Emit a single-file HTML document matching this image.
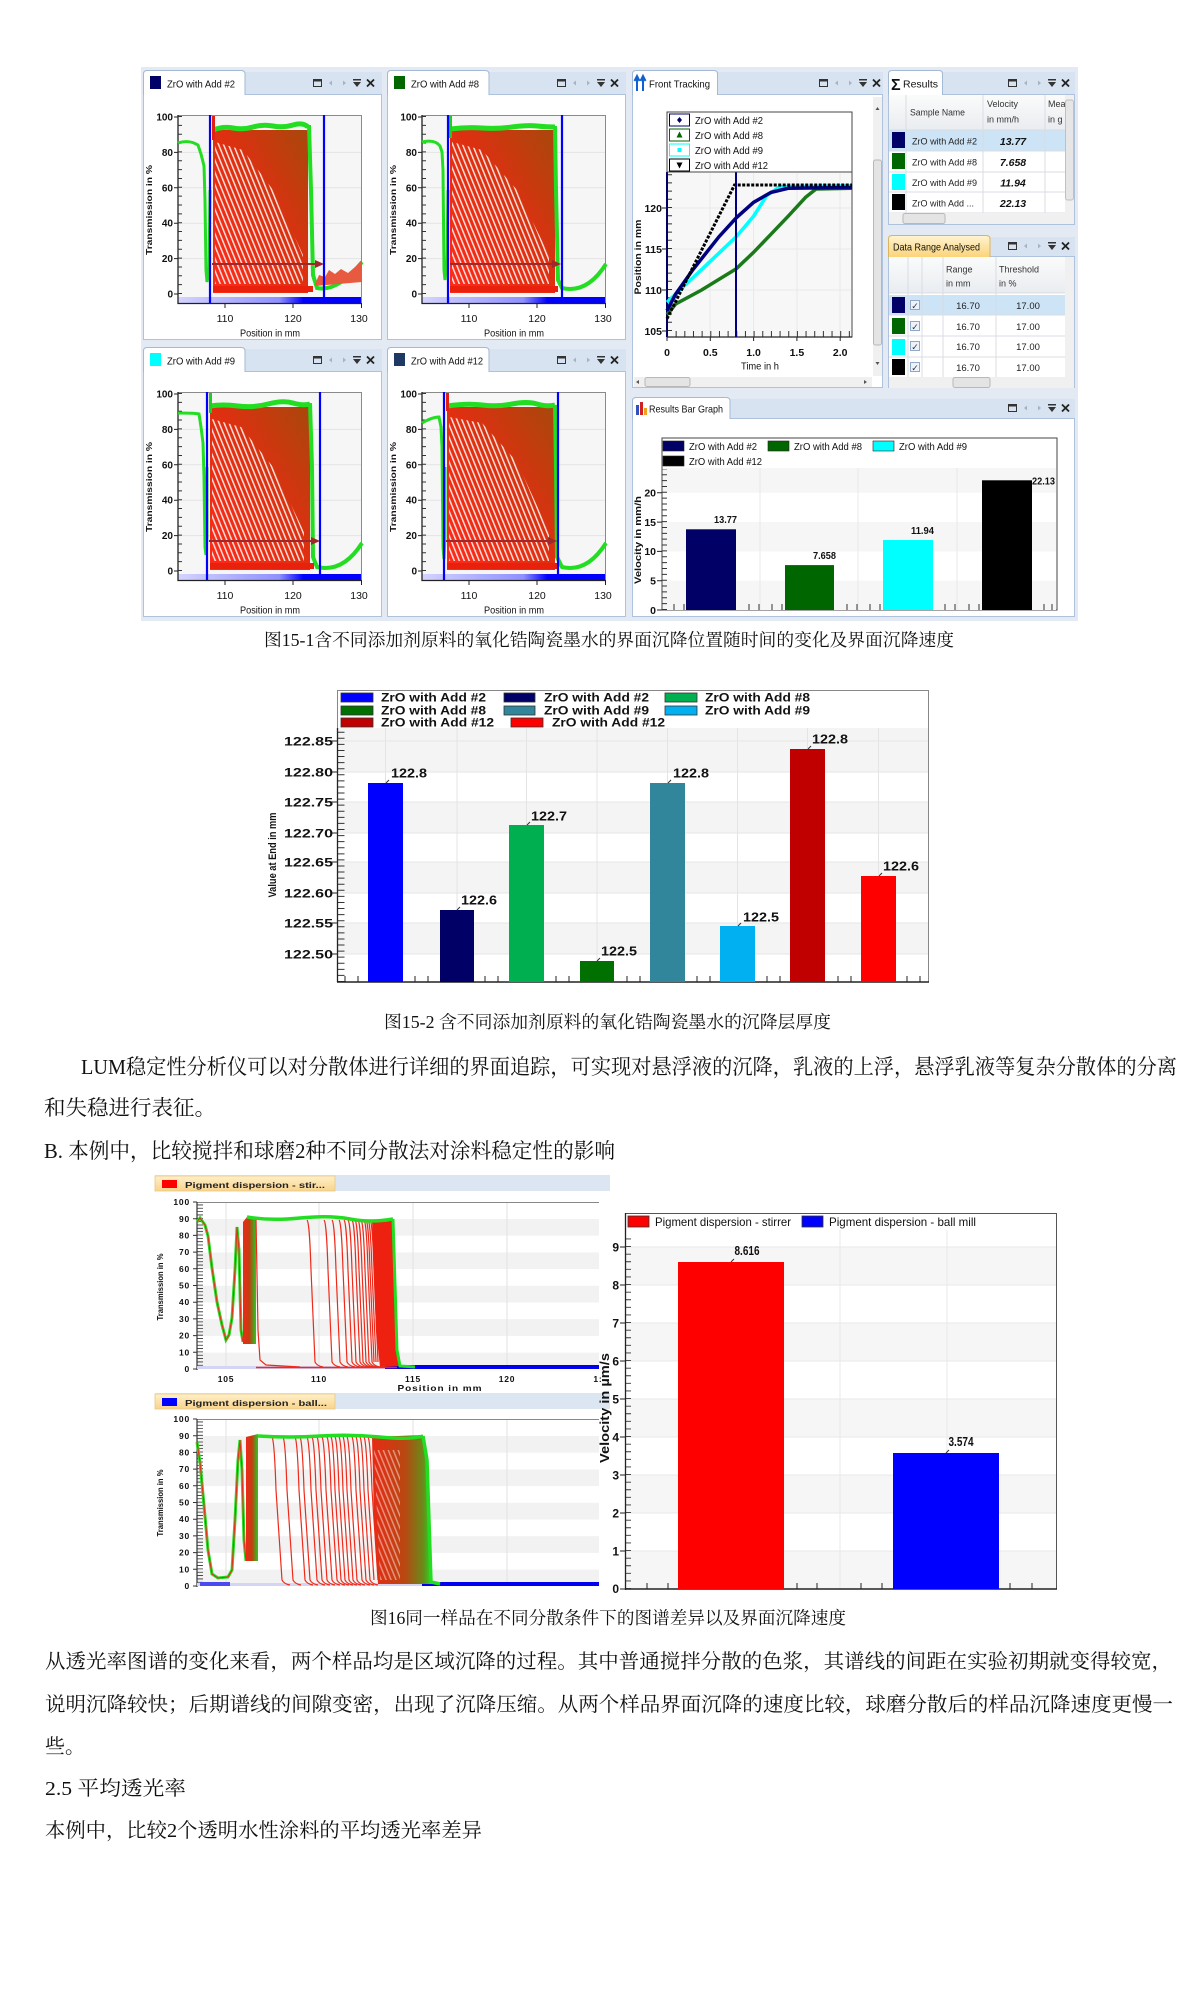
<!DOCTYPE html>
<html><head><meta charset="utf-8"><title>LUM</title>
<style>
html,body{margin:0;padding:0;background:#fff;}
svg{display:block;}
</style></head><body>
<svg width="1200" height="2011" viewBox="0 0 1200 2011" xmlns="http://www.w3.org/2000/svg" font-family="Liberation Sans, Arial, sans-serif">
<defs>
<linearGradient id="rg" x1="0" y1="1" x2="1" y2="0"><stop offset="0" stop-color="#ff2a1a"/><stop offset="0.55" stop-color="#dd3010"/><stop offset="1" stop-color="#a8480c"/></linearGradient>
<linearGradient id="bb" x1="0" x2="1"><stop offset="0" stop-color="#d4d4ff"/><stop offset="0.55" stop-color="#9090ff"/><stop offset="0.68" stop-color="#0000ff"/><stop offset="1" stop-color="#0000ff"/></linearGradient>
<linearGradient id="tabY" x1="0" y1="0" x2="0" y2="1"><stop offset="0" stop-color="#fff4d2"/><stop offset="1" stop-color="#fbd47a"/></linearGradient>
<linearGradient id="tabO" x1="0" y1="0" x2="0" y2="1"><stop offset="0" stop-color="#fff0c8"/><stop offset="1" stop-color="#f9d38c"/></linearGradient>
<linearGradient id="hdr" x1="0" y1="0" x2="0" y2="1"><stop offset="0" stop-color="#fbfbfb"/><stop offset="1" stop-color="#e9ecf0"/></linearGradient>
<linearGradient id="rgG" x1="0" x2="1"><stop offset="0" stop-color="#f02818"/><stop offset="0.5" stop-color="#c04010"/><stop offset="1" stop-color="#22cc22"/></linearGradient>
<linearGradient id="rg2" x1="0" x2="1"><stop offset="0" stop-color="#e82a14"/><stop offset="0.55" stop-color="#b84812"/><stop offset="0.85" stop-color="#6a8a18"/><stop offset="1" stop-color="#22dd22"/></linearGradient>
<pattern id="st" width="4.6" height="12" patternUnits="userSpaceOnUse" patternTransform="rotate(-22)">
<rect x="0" y="0" width="1.5" height="12" fill="#fff"/>
</pattern>
<g id="ic">
<rect x="0.5" y="-3.5" width="8" height="7" fill="none" stroke="#333" stroke-width="1"/><rect x="0.5" y="-3.5" width="8" height="2" fill="#333"/>
<path d="M19,-2.5 L16,0 L19,2.5Z" fill="#aab2c0"/>
<path d="M30,-2.5 L33,0 L30,2.5Z" fill="#aab2c0"/>
<rect x="40" y="-4" width="8" height="1.5" fill="#333"/><path d="M40,-1 H48 L44,4Z" fill="#333"/>
<path d="M54,-3.5 L61,3.5 M61,-3.5 L54,3.5" stroke="#222" stroke-width="1.8"/>
</g>
<g id="tp">
<rect x="0" y="2" width="239" height="23" fill="#d8e3f2"/>
<rect x="0.5" y="24.5" width="238" height="245" fill="#fff" stroke="#aec2dd"/>
<path d="M0.5,25 V4 Q0.5,0.5 4,0.5 H98 Q102,0.5 102,4 V25" fill="#fff" stroke="#a3b9d6"/>
<rect x="1" y="24" width="100.5" height="2" fill="#fff"/>
<use href="#ic" x="170" y="13"/>
<rect x="35" y="45" width="184" height="188" fill="#f6f6f6"/>
<path d="M35,82.4H219M35,117.8H219M35,153.2H219M35,188.6H219" stroke="#e4e4e4"/>
<rect x="35" y="227" width="184" height="6" fill="url(#bb)"/>
<path d="M35.5,45.5H218.5V233" fill="none" stroke="#8a8a8a"/>
<path d="M35,45V233.5H219" fill="none" stroke="#222" stroke-width="1.3"/>
<line x1="37" y1="224" x2="37" y2="45" stroke="#333" stroke-width="4" stroke-dasharray="1 7.85"/>
<path d="M31,47H35M31,82.4H35M31,117.8H35M31,153.2H35M31,188.6H35M31,224H35M82,233V238M150,233V238M218.5,233V238" stroke="#222"/>
<g font-size="10" font-weight="bold" fill="#111" text-anchor="end">
<text x="30" y="50.5">100</text><text x="30" y="86">80</text><text x="30" y="121.3">60</text><text x="30" y="156.7">40</text><text x="30" y="192">20</text><text x="30" y="227.5">0</text>
</g>
<g font-size="10.5" fill="#111" text-anchor="middle">
<text x="82" y="252">110</text><text x="150" y="252">120</text><text x="216" y="252">130</text>
<text x="127" y="266.5" textLength="60" lengthAdjust="spacingAndGlyphs">Position in mm</text>
</g>
<text transform="translate(9,140) rotate(-90)" font-size="8.5" font-weight="bold" fill="#111" text-anchor="middle" textLength="90" lengthAdjust="spacingAndGlyphs">Transmission in %</text>
</g>
</defs>

<!-- ===================== FIGURE 15-1 ===================== -->
<rect x="141" y="67" width="937" height="554" fill="#e3eaf4"/>

<!-- Panel 1 -->
<g transform="translate(143,70)">
<use href="#tp"/>
<rect x="7" y="6" width="11" height="13" fill="#000066"/>
<text x="24" y="17.5" font-size="10.5" fill="#111" textLength="68" lengthAdjust="spacingAndGlyphs">ZrO with Add #2</text>
<path d="M35,73 C44,70 50,72 55,75 L58,84 L61,96 L62,130 L63,200 L64,212 L66,200 L67,120" fill="none" stroke="#22dd22" stroke-width="3"/>
<rect x="70" y="60" width="95" height="163" fill="url(#rg)"/>
<polygon points="72,72 100,80 130,120 160,185 160,214 72,214" fill="url(#st)" opacity="0.85"/>
<path d="M70,60 Q80,56 90,58 T110,57 T130,56 T150,55 T165,57" fill="none" stroke="#22dd22" stroke-width="5"/>
<path d="M166,55 L168,120 L170,205 L174,218 Q195,222 219,192" fill="none" stroke="#22dd22" stroke-width="4"/>
<path d="M172,214 L176,205 L182,207 L186,200 L192,204 L198,199 L205,203 L212,197 L219,190 L219,212 L172,216Z" fill="#e85a40"/>
<rect x="70" y="216" width="100" height="6" fill="#e8200c"/>
<rect x="69" y="46" width="3" height="24" fill="#e02010"/>
<line x1="69" y1="194" x2="175" y2="194" stroke="#a02828" stroke-width="2"/>
<path d="M181,194 L172,190 L172,198Z" fill="#a02828"/>
<line x1="67" y1="45" x2="67" y2="233" stroke="#0000ff" stroke-width="2.2"/>
<line x1="181" y1="45" x2="181" y2="233" stroke="#0000ff" stroke-width="2.2"/>
</g>

<!-- Panel 2 -->
<g transform="translate(387,70)">
<use href="#tp"/>
<rect x="7" y="6" width="11" height="13" fill="#006600"/>
<text x="24" y="17.5" font-size="10.5" fill="#111" textLength="68" lengthAdjust="spacingAndGlyphs">ZrO with Add #8</text>
<path d="M35,72 C44,70 50,72 53,76 L55,82 L56,100 L57,200 L58,210 L60,190 L61,120" fill="none" stroke="#22dd22" stroke-width="3"/>
<rect x="63" y="60" width="105" height="163" fill="url(#rg)"/>
<polygon points="65,72 95,80 130,120 162,185 162,214 65,214" fill="url(#st)" opacity="0.85"/>
<path d="M63,59 Q80,57 95,58 T125,57 T150,56 T168,57" fill="none" stroke="#22dd22" stroke-width="5"/>
<path d="M168,56 L169,120 L171,210 L175,218 Q200,224 219,194" fill="none" stroke="#22dd22" stroke-width="4"/>
<rect x="63" y="216" width="108" height="6" fill="#e8200c"/>
<rect x="62" y="46" width="3" height="22" fill="#22cc22"/>
<line x1="63" y1="194" x2="168" y2="194" stroke="#a02828" stroke-width="2"/>
<path d="M174,194 L165,190 L165,198Z" fill="#a02828"/>
<line x1="61" y1="45" x2="61" y2="233" stroke="#0000ff" stroke-width="2.2"/>
<line x1="175" y1="45" x2="175" y2="233" stroke="#0000ff" stroke-width="2.2"/>
</g>

<!-- Panel 3 -->
<g transform="translate(143,347)">
<use href="#tp"/>
<rect x="7" y="6" width="11" height="13" fill="#00ffff"/>
<text x="24" y="17.5" font-size="10.5" fill="#111" textLength="68" lengthAdjust="spacingAndGlyphs">ZrO with Add #9</text>
<path d="M35,66 C44,66 52,66 56,67 L58,80 L60,96 L61,130 L62,200 L63,208 L64,190 L64,120" fill="none" stroke="#22dd22" stroke-width="3"/>
<rect x="67" y="60" width="100" height="163" fill="url(#rg)"/>
<polygon points="69,72 98,80 130,120 161,185 161,214 69,214" fill="url(#st)" opacity="0.85"/>
<path d="M67,59 Q80,57 95,59 T125,57 T150,56 T167,57" fill="none" stroke="#22dd22" stroke-width="5"/>
<path d="M167,56 L169,120 L170,210 L174,220 Q200,226 219,196" fill="none" stroke="#22dd22" stroke-width="4"/>
<rect x="67" y="216" width="104" height="6" fill="#e8200c"/>
<rect x="66" y="46" width="3" height="20" fill="#22cc22"/>
<line x1="66" y1="194" x2="171" y2="194" stroke="#a02828" stroke-width="2"/>
<path d="M177,194 L168,190 L168,198Z" fill="#a02828"/>
<line x1="64" y1="45" x2="64" y2="233" stroke="#0000ff" stroke-width="2.2"/>
<line x1="177" y1="45" x2="177" y2="233" stroke="#0000ff" stroke-width="2.2"/>
</g>

<!-- Panel 4 -->
<g transform="translate(387,347)">
<use href="#tp"/>
<rect x="7" y="6" width="11" height="13" fill="#1f3864"/>
<text x="24" y="17.5" font-size="10.5" fill="#111" textLength="72" lengthAdjust="spacingAndGlyphs">ZrO with Add #12</text>
<path d="M35,76 C42,72 48,70 52,70 L54,80 L55,100 L56,200 L57,212 L58,190 L58,120" fill="none" stroke="#22dd22" stroke-width="3"/>
<rect x="60" y="60" width="108" height="163" fill="url(#rg)"/>
<polygon points="62,70 95,76 130,115 162,185 162,214 62,214" fill="url(#st)" opacity="0.85"/>
<path d="M60,59 Q80,56 95,58 T125,57 T150,57 T168,58" fill="none" stroke="#22dd22" stroke-width="5"/>
<path d="M168,58 L169,120 L170,210 L175,220 Q200,226 219,196" fill="none" stroke="#22dd22" stroke-width="4"/>
<rect x="60" y="216" width="110" height="6" fill="#e8200c"/>
<rect x="59" y="46" width="3" height="18" fill="#e02010"/>
<line x1="59" y1="194" x2="165" y2="194" stroke="#a02828" stroke-width="2"/>
<path d="M170,194 L161,190 L161,198Z" fill="#a02828"/>
<line x1="57" y1="45" x2="57" y2="233" stroke="#0000ff" stroke-width="2.2"/>
<line x1="171" y1="45" x2="171" y2="233" stroke="#0000ff" stroke-width="2.2"/>
</g>

<!-- Front tracking -->
<g transform="translate(632,70)">
<rect x="0" y="2" width="251" height="23" fill="#d8e3f2"/>
<rect x="0.5" y="24.5" width="250" height="293" fill="#fff" stroke="#aec2dd"/>
<path d="M0.5,25 V4 Q0.5,0.5 4,0.5 H82 Q85.5,0.5 85.5,4 V25" fill="#fff" stroke="#a3b9d6"/>
<rect x="1" y="24" width="84" height="2" fill="#fff"/>
<use href="#ic" x="187" y="13"/>
<path d="M5,21 V8 M2.5,11 L5,6 L7.5,11 M11,21 V8 M8.5,11 L11,6 L13.5,11" stroke="#1060d0" stroke-width="2" fill="none"/>
<text x="17" y="17.5" font-size="10.5" fill="#111" textLength="61" lengthAdjust="spacingAndGlyphs">Front Tracking</text>
<rect x="35" y="42" width="185" height="225" fill="#fff" stroke="#444"/>
<rect x="36" y="103" width="183" height="163" fill="#f7f7f7"/>
<path d="M36,138H219M36,179H219M36,220H219M78,103V266M121.6,103V266M165,103V266M208,103V266" stroke="#e8e8e8"/>
<line x1="37.5" y1="261" x2="37.5" y2="103" stroke="#333" stroke-width="5" stroke-dasharray="1 7.2"/>
<line x1="35" y1="264" x2="220" y2="264" stroke="#333" stroke-width="6" stroke-dasharray="1 7.66"/>
<line x1="35" y1="102" x2="35" y2="267" stroke="#000066" stroke-width="2"/>
<line x1="35" y1="267" x2="220" y2="267" stroke="#222" stroke-width="1.2"/>
<path d="M30,261H35M30,220H35M30,179H35M30,138H35M35,267V271M78.3,267V271M121.6,267V271M164.9,267V271M208.2,267V271" stroke="#222"/>
<g font-size="10.5" font-weight="bold" fill="#111" text-anchor="end">
<text x="30" y="265">105</text><text x="30" y="224">110</text><text x="30" y="183">115</text><text x="30" y="142">120</text>
</g>
<g font-size="10.5" font-weight="bold" fill="#111" text-anchor="middle">
<text x="35" y="286">0</text><text x="78.3" y="286">0.5</text><text x="121.6" y="286">1.0</text><text x="164.9" y="286">1.5</text><text x="208.2" y="286">2.0</text>
</g>
<text x="128" y="299.5" font-size="10.5" fill="#111" text-anchor="middle" textLength="38" lengthAdjust="spacingAndGlyphs">Time in h</text>
<text transform="translate(9,187) rotate(-90)" font-size="9" font-weight="bold" fill="#111" text-anchor="middle" textLength="75" lengthAdjust="spacingAndGlyphs">Position in mm</text>
<polyline points="35,244.6 43.7,234 69.6,220 104.3,198.7 121.6,182.3 139,164.2 156.2,146.2 173.6,127.3 184,119 220,118.3" fill="none" stroke="#1a7a1a" stroke-width="3.5"/>
<polyline points="35,232.3 52.3,215.9 78.3,191.3 104.3,166.7 121.6,146.2 134.6,125.7 147.6,116.7 220,115.9" fill="none" stroke="#00ffff" stroke-width="3.5"/>
<polyline points="35,240.5 43.7,224 61,199.5 87,166.7 104.3,147.8 121.6,132.3 139,122.4 156.2,118.3 220,117.5" fill="none" stroke="#000080" stroke-width="3.5"/>
<polyline points="35,248.7 102.5,115 220,115" fill="none" stroke="#000" stroke-width="3" stroke-dasharray="3 1.5"/>
<line x1="104" y1="102" x2="104" y2="267" stroke="#000080" stroke-width="2"/>
<rect x="35" y="42" width="185" height="60" fill="#fff" stroke="#444"/>
<rect x="37.5" y="44" width="20" height="12" fill="#fff" stroke="#000066"/><path d="M47.5,47 L50,50 L47.5,53 L45,50Z" fill="#000066"/>
<rect x="37.5" y="59" width="20" height="12" fill="#fff" stroke="#006600"/><path d="M47.5,61.5 L50.5,67.5 H44.5Z" fill="#006600"/>
<rect x="37.5" y="74" width="20" height="12" fill="#fff" stroke="#00ffff"/><rect x="45.5" y="78" width="4" height="4" fill="#00ffff"/>
<rect x="37.5" y="89" width="20" height="12" fill="#fff" stroke="#000"/><path d="M44.5,92.5 H50.5 L47.5,98.5Z" fill="#000"/>
<g font-size="10.5" fill="#111">
<text x="63" y="54" textLength="68" lengthAdjust="spacingAndGlyphs">ZrO with Add #2</text>
<text x="63" y="69" textLength="68" lengthAdjust="spacingAndGlyphs">ZrO with Add #8</text>
<text x="63" y="84" textLength="68" lengthAdjust="spacingAndGlyphs">ZrO with Add #9</text>
<text x="63" y="99" textLength="73" lengthAdjust="spacingAndGlyphs">ZrO with Add #12</text>
</g>
<rect x="241" y="27" width="9" height="279" fill="#f0f0f0"/>
<rect x="241.5" y="90" width="8" height="185" rx="2" fill="#e4e4e4" stroke="#b8b8b8"/>
<path d="M243.5,40 L245.5,37 L247.5,40Z M243.5,292 L245.5,295 L247.5,292Z" fill="#555"/>
<rect x="2" y="307" width="238" height="10" fill="#f0f0f0"/>
<rect x="13" y="307.5" width="45" height="9" rx="2" fill="#e4e4e4" stroke="#b8b8b8"/>
<path d="M7,310 L4,312 L7,314Z M232,310 L235,312 L232,314Z" fill="#555"/>
</g>

<!-- Results -->
<g transform="translate(888,70)">
<rect x="0" y="2" width="187" height="23" fill="#d8e3f2"/>
<rect x="0.5" y="24.5" width="186" height="130" fill="#fff" stroke="#aec2dd"/>
<path d="M0.5,25 V4 Q0.5,0.5 4,0.5 H51 Q54.5,0.5 54.5,4 V25" fill="#fff" stroke="#a3b9d6"/>
<rect x="1" y="24" width="53" height="2" fill="#fff"/>
<use href="#ic" x="120" y="13"/>
<text x="3" y="20" font-size="16" font-weight="bold" fill="#111">Σ</text>
<text x="15" y="17.5" font-size="10.5" fill="#111" textLength="35" lengthAdjust="spacingAndGlyphs">Results</text>
<rect x="1" y="25" width="176" height="35" fill="url(#hdr)"/>
<rect x="1" y="60" width="176" height="21" fill="#cde4f6"/>
<path d="M1,81H177M1,102H177M1,122H177M1,143H177M18,25V143M95,25V143M157,25V143M1,60H177" stroke="#d8dde4"/>
<g font-size="9" fill="#333">
<text x="22" y="45.5" textLength="55" lengthAdjust="spacingAndGlyphs">Sample Name</text>
<text x="99" y="37">Velocity</text><text x="99" y="52.5">in mm/h</text>
<text x="160" y="37">Mea</text><text x="160" y="52.5">in g</text>
</g>
<rect x="4" y="62" width="13" height="16" fill="#000066"/>
<rect x="4" y="83" width="13" height="16" fill="#006600"/>
<rect x="4" y="104" width="13" height="16" fill="#00ffff"/>
<rect x="4" y="124" width="13" height="16" fill="#000"/>
<g font-size="9.5" fill="#222">
<text x="24" y="74.5" textLength="65" lengthAdjust="spacingAndGlyphs">ZrO with Add #2</text>
<text x="24" y="95.5" textLength="65" lengthAdjust="spacingAndGlyphs">ZrO with Add #8</text>
<text x="24" y="116" textLength="65" lengthAdjust="spacingAndGlyphs">ZrO with Add #9</text>
<text x="24" y="136.5" textLength="62" lengthAdjust="spacingAndGlyphs">ZrO with Add ...</text>
</g>
<g font-size="10.5" font-weight="bold" font-style="italic" fill="#111" text-anchor="middle">
<text x="125" y="75">13.77</text><text x="125" y="96">7.658</text><text x="125" y="116.5">11.94</text><text x="125" y="137">22.13</text>
</g>
<rect x="177" y="25" width="9" height="118" fill="#f0f0f0"/>
<rect x="177.5" y="30" width="8" height="100" rx="2" fill="#e6e6e6" stroke="#c0c0c0"/>
<rect x="1" y="143" width="185" height="11" fill="#f0f0f0"/>
<rect x="15" y="143.5" width="42" height="10" rx="2" fill="#e4e4e4" stroke="#b8b8b8"/>
</g>

<!-- Data Range -->
<g transform="translate(888,235)">
<rect x="0" y="2" width="187" height="20" fill="#d8e3f2"/>
<rect x="0.5" y="21.5" width="186" height="131" fill="#fff" stroke="#aec2dd"/>
<path d="M0.5,22 V4 Q0.5,0.5 4,0.5 H98 Q102,0.5 102,4 V22" fill="url(#tabY)" stroke="#dcb45a"/>
<use href="#ic" x="120" y="11"/>
<text x="5" y="15.5" font-size="10.5" fill="#111" textLength="87" lengthAdjust="spacingAndGlyphs">Data Range Analysed</text>
<rect x="1" y="22" width="176" height="36" fill="url(#hdr)"/>
<rect x="1" y="60" width="176" height="20" fill="#cde4f6"/>
<path d="M1,58H177M1,80H177M1,101H177M1,122H177M20,22V142M34,22V142M55,22V142M108,22V142" stroke="#d8dde4"/>
<g font-size="9" fill="#333">
<text x="58" y="37.5">Range</text><text x="58" y="51.5">in mm</text>
<text x="111" y="37.5">Threshold</text><text x="111" y="51.5">in %</text>
</g>
<rect x="4" y="62" width="13" height="16" fill="#000066"/>
<rect x="4" y="83" width="13" height="16" fill="#006600"/>
<rect x="4" y="104" width="13" height="16" fill="#00ffff"/>
<rect x="4" y="124" width="13" height="16" fill="#000"/>
<g fill="#eef3fb" stroke="#8fa8c8">
<rect x="22.5" y="65.5" width="9" height="9"/><rect x="22.5" y="86.5" width="9" height="9"/><rect x="22.5" y="106.5" width="9" height="9"/><rect x="22.5" y="127.5" width="9" height="9"/>
</g>
<g font-size="9" fill="#334" text-anchor="middle">
<text x="27" y="74">✓</text><text x="27" y="95">✓</text><text x="27" y="115">✓</text><text x="27" y="136">✓</text>
</g>
<g font-size="9.5" fill="#222" text-anchor="middle">
<text x="80" y="74">16.70</text><text x="140" y="74">17.00</text>
<text x="80" y="95">16.70</text><text x="140" y="95">17.00</text>
<text x="80" y="115">16.70</text><text x="140" y="115">17.00</text>
<text x="80" y="136">16.70</text><text x="140" y="136">17.00</text>
</g>
<rect x="177" y="22" width="9" height="120" fill="#f0f0f0"/>
<rect x="1" y="142" width="185" height="11" fill="#f0f0f0"/>
<rect x="65" y="142.5" width="37" height="10" rx="2" fill="#e4e4e4" stroke="#b8b8b8"/>
</g>

<!-- Results bar graph -->
<g transform="translate(632,397)">
<rect x="0" y="2" width="443" height="20" fill="#d8e3f2"/>
<rect x="0.5" y="21.5" width="442" height="198" fill="#fff" stroke="#aec2dd"/>
<path d="M0.5,22 V4 Q0.5,0.5 4,0.5 H94 Q98,0.5 98,4 V22" fill="#fff" stroke="#a3b9d6"/>
<rect x="1" y="21" width="96.5" height="2" fill="#fff"/>
<use href="#ic" x="376" y="11"/>
<rect x="4" y="8" width="3" height="10" fill="#3050c0"/><rect x="8" y="5" width="3" height="13" fill="#d02020"/><rect x="12" y="11" width="3" height="7" fill="#f0a020"/>
<text x="17" y="15.5" font-size="10.5" fill="#111" textLength="74" lengthAdjust="spacingAndGlyphs">Results Bar Graph</text>
<rect x="30" y="41" width="395" height="172" fill="#fff" stroke="#444"/>
<rect x="31" y="71" width="393" height="24.8" fill="#f6f6f6"/>
<rect x="31" y="125.1" width="393" height="29.3" fill="#f6f6f6"/>
<rect x="31" y="183.7" width="393" height="29.3" fill="#f6f6f6"/>
<path d="M128,71V213M226,71V213M325,71V213" stroke="#e8e8e8"/>
<line x1="32.5" y1="213" x2="32.5" y2="72" stroke="#333" stroke-width="5" stroke-dasharray="1 4.86"/>
<path d="M25,95.8H30M25,125.1H30M25,154.4H30M25,183.7H30M25,213H30" stroke="#222"/>
<path d="M42,213V207M52,213V207M117,213V207M127,213V207M140,213V207M150,213V207M215,213V207M225,213V207M238,213V207M248,213V207M313,213V207M323,213V207M337,213V207M347,213V207M412,213V207M420,213V207" stroke="#333"/>
<g font-size="10.5" font-weight="bold" fill="#111" text-anchor="end">
<text x="24" y="99.5">20</text><text x="24" y="129">15</text><text x="24" y="158">10</text><text x="24" y="187.5">5</text><text x="24" y="217">0</text>
</g>
<text transform="translate(9,143) rotate(-90)" font-size="9" font-weight="bold" fill="#111" text-anchor="middle" textLength="88" lengthAdjust="spacingAndGlyphs">Velocity in mm/h</text>
<rect x="54" y="132.3" width="50" height="80.7" fill="#000066"/>
<rect x="153" y="168.1" width="49" height="44.9" fill="#006600"/>
<rect x="251" y="143" width="50" height="70" fill="#00ffff"/>
<rect x="350" y="83.3" width="50" height="129.7" fill="#000"/>
<g font-size="10.5" font-weight="bold" fill="#111">
<text x="82" y="126" textLength="23" lengthAdjust="spacingAndGlyphs">13.77</text>
<text x="181" y="162" textLength="23" lengthAdjust="spacingAndGlyphs">7.658</text>
<text x="279" y="137" textLength="23" lengthAdjust="spacingAndGlyphs">11.94</text>
<text x="400" y="87.5" textLength="23" lengthAdjust="spacingAndGlyphs">22.13</text>
</g>
<rect x="31" y="44" width="21" height="10" fill="#000066" stroke="#222" stroke-width="0.6"/>
<rect x="136" y="44" width="21" height="10" fill="#006600" stroke="#222" stroke-width="0.6"/>
<rect x="241" y="44" width="21" height="10" fill="#00ffff" stroke="#222" stroke-width="0.6"/>
<rect x="31" y="59" width="21" height="10" fill="#000" stroke="#222" stroke-width="0.6"/>
<g font-size="10.5" fill="#111">
<text x="57" y="53" textLength="68" lengthAdjust="spacingAndGlyphs">ZrO with Add #2</text>
<text x="162" y="53" textLength="68" lengthAdjust="spacingAndGlyphs">ZrO with Add #8</text>
<text x="267" y="53" textLength="68" lengthAdjust="spacingAndGlyphs">ZrO with Add #9</text>
<text x="57" y="68" textLength="73" lengthAdjust="spacingAndGlyphs">ZrO with Add #12</text>
</g>
</g>

<!-- ===================== FIGURE 15-2 ===================== -->
<rect x="337.5" y="690.5" width="591" height="291.5" fill="#fff" stroke="#888"/>
<rect x="338" y="728" width="590" height="44" fill="#f4f4f4"/>
<rect x="338" y="802" width="590" height="31" fill="#f4f4f4"/>
<rect x="338" y="862" width="590" height="31" fill="#f4f4f4"/>
<rect x="338" y="923" width="590" height="31" fill="#f4f4f4"/>
<path d="M338,741H928M338,772H928M338,802H928M338,833H928M338,862H928M338,893H928M338,923H928M338,954H928" stroke="#e6e6e6"/>
<path d="M385.5,728V982M457,728V982M526.5,728V982M597,728V982M667.5,728V982M737.5,728V982M807.5,728V982M878.5,728V982" stroke="#e4e4e4"/>
<line x1="341" y1="982" x2="341" y2="728" stroke="#333" stroke-width="7" stroke-dasharray="1 5.08"/>
<path d="M331,741H337M331,772H337M331,802H337M331,833H337M331,862H337M331,893H337M331,923H337M331,954H337" stroke="#222"/>
<line x1="337.5" y1="728" x2="337.5" y2="982" stroke="#222" stroke-width="1.3"/>
<line x1="337" y1="982" x2="929" y2="982" stroke="#222" stroke-width="1.5"/>
<path d="M345,982V976M358,982V976M415,982V976M428,982V976M485,982V976M498,982V976M556,982V976M569,982V976M627,982V976M640,982V976M697,982V976M710,982V976M767,982V976M780,982V976M838,982V976M851,982V976M907,982V976M920,982V976" stroke="#222"/>
<g font-size="12" font-weight="bold" fill="#111" text-anchor="end">
<text x="333" y="745.5" textLength="49" lengthAdjust="spacingAndGlyphs">122.85</text>
<text x="333" y="776.5" textLength="49" lengthAdjust="spacingAndGlyphs">122.80</text>
<text x="333" y="806.5" textLength="49" lengthAdjust="spacingAndGlyphs">122.75</text>
<text x="333" y="837.5" textLength="49" lengthAdjust="spacingAndGlyphs">122.70</text>
<text x="333" y="866.5" textLength="49" lengthAdjust="spacingAndGlyphs">122.65</text>
<text x="333" y="897.5" textLength="49" lengthAdjust="spacingAndGlyphs">122.60</text>
<text x="333" y="927.5" textLength="49" lengthAdjust="spacingAndGlyphs">122.55</text>
<text x="333" y="958.5" textLength="49" lengthAdjust="spacingAndGlyphs">122.50</text>
</g>
<text transform="translate(276,855) rotate(-90)" font-size="11" font-weight="bold" fill="#111" text-anchor="middle" textLength="85" lengthAdjust="spacingAndGlyphs">Value at End in mm</text>
<rect x="368" y="783" width="35" height="199" fill="#0000ff"/>
<rect x="440" y="910" width="34" height="72" fill="#000066"/>
<rect x="509" y="825" width="35" height="157" fill="#00b050"/>
<rect x="580" y="961" width="34" height="21" fill="#007000"/>
<rect x="650" y="783" width="35" height="199" fill="#31869b"/>
<rect x="720" y="926" width="35" height="56" fill="#00b0f0"/>
<rect x="790" y="749" width="35" height="233" fill="#c00000"/>
<rect x="861" y="876" width="35" height="106" fill="#ff0000"/>
<g font-size="12.5" font-weight="bold" fill="#111">
<text x="391" y="777.5" textLength="36" lengthAdjust="spacingAndGlyphs">122.8</text>
<text x="461" y="904.5" textLength="36" lengthAdjust="spacingAndGlyphs">122.6</text>
<text x="531" y="820.5" textLength="36" lengthAdjust="spacingAndGlyphs">122.7</text>
<text x="601" y="955.5" textLength="36" lengthAdjust="spacingAndGlyphs">122.5</text>
<text x="673" y="777.5" textLength="36" lengthAdjust="spacingAndGlyphs">122.8</text>
<text x="743" y="921.5" textLength="36" lengthAdjust="spacingAndGlyphs">122.5</text>
<text x="812" y="743.5" textLength="36" lengthAdjust="spacingAndGlyphs">122.8</text>
<text x="883" y="870.5" textLength="36" lengthAdjust="spacingAndGlyphs">122.6</text>
</g>
<path d="M386,783 l3,-3 M457,910 l3,-3 M527,825 l3,-3 M597,961 l3,-3 M668,783 l3,-3 M738,926 l3,-3 M808,749 l3,-3 M879,876 l3,-3" stroke="#333"/>
<g stroke="#333" stroke-width="0.8">
<rect x="341" y="693" width="32" height="9" fill="#0000ff"/>
<rect x="504" y="693" width="31" height="9" fill="#000066"/>
<rect x="665" y="693" width="32" height="9" fill="#00b050"/>
<rect x="341" y="706" width="32" height="9" fill="#007000"/>
<rect x="504" y="706" width="31" height="9" fill="#31869b"/>
<rect x="665" y="706" width="32" height="9" fill="#00b0f0"/>
<rect x="341" y="718" width="32" height="9" fill="#c00000"/>
<rect x="511" y="718" width="32" height="9" fill="#ff0000"/>
</g>
<g font-size="11.5" font-weight="bold" fill="#111">
<text x="381" y="701.5" textLength="105" lengthAdjust="spacingAndGlyphs">ZrO with Add #2</text>
<text x="544" y="701.5" textLength="105" lengthAdjust="spacingAndGlyphs">ZrO with Add #2</text>
<text x="705" y="701.5" textLength="105" lengthAdjust="spacingAndGlyphs">ZrO with Add #8</text>
<text x="381" y="714.5" textLength="105" lengthAdjust="spacingAndGlyphs">ZrO with Add #8</text>
<text x="544" y="714.5" textLength="105" lengthAdjust="spacingAndGlyphs">ZrO with Add #9</text>
<text x="705" y="714.5" textLength="105" lengthAdjust="spacingAndGlyphs">ZrO with Add #9</text>
<text x="381" y="726.5" textLength="113" lengthAdjust="spacingAndGlyphs">ZrO with Add #12</text>
<text x="552" y="726.5" textLength="113" lengthAdjust="spacingAndGlyphs">ZrO with Add #12</text>
</g>

<!-- ===================== FIGURE 16 LEFT ===================== -->
<rect x="155" y="1175" width="455" height="16" fill="#dce6f2"/>
<rect x="155" y="1176" width="180" height="15" fill="url(#tabO)" stroke="#e6c88a" stroke-width="0.8"/>
<rect x="162" y="1180" width="15" height="8" fill="#ff0000"/>
<text x="185" y="1188" font-size="8" font-weight="bold" fill="#222" textLength="140" lengthAdjust="spacingAndGlyphs">Pigment dispersion - stir...</text>
<rect x="197" y="1202" width="402" height="167" fill="#fff"/>
<rect x="197" y="1219" width="402" height="16.7" fill="#f2f2f2"/>
<rect x="197" y="1252.4" width="402" height="16.7" fill="#f2f2f2"/>
<rect x="197" y="1285.8" width="402" height="16.7" fill="#f2f2f2"/>
<rect x="197" y="1319.2" width="402" height="16.7" fill="#f2f2f2"/>
<rect x="197" y="1352.6" width="402" height="16.4" fill="#f2f2f2"/>
<path d="M226,1202V1369M319,1202V1369M413,1202V1369M507,1202V1369" stroke="#e2e2e2"/>
<line x1="197" y1="1202.5" x2="599" y2="1202.5" stroke="#888"/>
<line x1="200" y1="1369" x2="200" y2="1202" stroke="#333" stroke-width="6" stroke-dasharray="0.8 2.54"/>
<line x1="197" y1="1202" x2="197" y2="1370" stroke="#333" stroke-width="1.2"/>
<rect x="197" y="1366" width="188" height="3" fill="#d4d4f4"/>
<rect x="385" y="1365" width="214" height="4" fill="#0000ee"/>
<path d="M197,1222 L200,1218 L205,1225 L208,1236 L212,1268 L217,1302 L222,1325 L226,1340 L229,1335 L232,1318 L235,1270 L237,1227 L239,1250 L241,1330 L243,1342" fill="none" stroke="#22dd22" stroke-width="3"/>
<path d="M197,1222 L200,1218 L205,1225 L208,1236 L212,1268 L217,1302 L222,1325 L226,1340 L229,1335 L232,1318 L235,1270 L237,1227 L239,1250 L241,1330 L243,1342" fill="none" stroke="#ee2a1a" stroke-width="1"/>
<path d="M243,1344 L243,1222 L247,1217 L256,1217 L256,1344 Z" fill="url(#rgG)"/>
<g fill="none" stroke="#ee2a1a" stroke-width="1.2">
<path d="M256,1219 L258,1330 L260,1360 L266,1365 L300,1367"/>
<path d="M307,1220 C309,1222 310,1240 311,1270 L315,1362 Q317,1366 323,1367"/>
<path d="M324,1220 C326,1222 327,1240 328,1270 L332,1362 Q334,1366 340,1367"/>
<path d="M332,1220 C334,1222 335,1240 336,1270 L340,1362 Q342,1366 348,1367"/>
<path d="M339,1220 C341,1222 342,1240 343,1270 L347,1362 Q349,1366 355,1367"/>
<path d="M344,1220 C346,1222 347,1240 348,1270 L352,1362 Q354,1366 360,1367"/>
<path d="M348,1220 C350,1222 351,1240 352,1270 L356,1362 Q358,1366 364,1367"/>
<path d="M352,1220 C354,1222 355,1240 356,1270 L360,1362 Q362,1366 368,1367"/>
<path d="M355,1220 C357,1222 358,1240 359,1270 L363,1362 Q365,1366 371,1367"/>
<path d="M358,1220 C360,1222 361,1240 362,1270 L366,1362 Q368,1366 374,1367"/>
<path d="M361,1220 C363,1222 364,1240 365,1270 L369,1362 Q371,1366 377,1367"/>
<path d="M364,1220 C366,1222 367,1240 368,1270 L372,1362 Q374,1366 380,1367"/>
<path d="M366,1220 C368,1222 369,1240 370,1270 L374,1362"/>
<path d="M368,1220 C370,1222 371,1240 372,1270 L376,1362"/>
<path d="M370,1220 C372,1222 373,1240 374,1270 L378,1362"/>
</g>
<path d="M372,1220 L390,1219 L393,1222 L396,1345 L399,1366 L380,1367 L376,1330 Z" fill="#ee2010"/>
<path d="M247,1217 Q270,1221 300,1218 T350,1219 T393,1219" fill="none" stroke="#22dd22" stroke-width="3.5"/>
<path d="M393,1219 L397,1350 L400,1366 L415,1367" fill="none" stroke="#22dd22" stroke-width="3"/>
<line x1="256" y1="1367.5" x2="397" y2="1367.5" stroke="#ee2a1a" stroke-width="1.5"/>
<path d="M197,1202H193M197,1218.7H193M197,1235.4H193M197,1252.1H193M197,1268.8H193M197,1285.5H193M197,1302.2H193M197,1318.9H193M197,1335.6H193M197,1352.3H193M197,1369H193" stroke="#333"/>
<g font-size="8.5" font-weight="bold" fill="#111" text-anchor="end" letter-spacing="0.8">
<text x="190" y="1205">100</text><text x="190" y="1222">90</text><text x="190" y="1238.5">80</text><text x="190" y="1255">70</text><text x="190" y="1272">60</text><text x="190" y="1288.5">50</text><text x="190" y="1305">40</text><text x="190" y="1322">30</text><text x="190" y="1338.5">20</text><text x="190" y="1355.5">10</text><text x="190" y="1372">0</text>
</g>
<g font-size="8.5" font-weight="bold" fill="#111" text-anchor="middle" letter-spacing="0.8">
<text x="226" y="1382">105</text><text x="319" y="1382">110</text><text x="413" y="1382">115</text><text x="507" y="1382">120</text><text x="598" y="1382">1:</text>
<text x="440" y="1391" textLength="85" lengthAdjust="spacingAndGlyphs">Position in mm</text>
</g>
<text transform="translate(163,1287) rotate(-90)" font-size="8" font-weight="bold" fill="#111" text-anchor="middle" textLength="67" lengthAdjust="spacingAndGlyphs">Transmission in %</text>

<rect x="155" y="1393" width="455" height="16" fill="#dce6f2"/>
<rect x="155" y="1394" width="180" height="15" fill="url(#tabO)" stroke="#e6c88a" stroke-width="0.8"/>
<rect x="162" y="1398" width="15" height="8" fill="#0000ff"/>
<text x="185" y="1406" font-size="8" font-weight="bold" fill="#222" textLength="142" lengthAdjust="spacingAndGlyphs">Pigment dispersion - ball...</text>
<rect x="197" y="1419" width="402" height="167" fill="#fff"/>
<rect x="197" y="1436" width="402" height="16.7" fill="#f2f2f2"/>
<rect x="197" y="1469.4" width="402" height="16.7" fill="#f2f2f2"/>
<rect x="197" y="1502.8" width="402" height="16.7" fill="#f2f2f2"/>
<rect x="197" y="1536.2" width="402" height="16.7" fill="#f2f2f2"/>
<rect x="197" y="1569.6" width="402" height="16.4" fill="#f2f2f2"/>
<path d="M226,1419V1586M319,1419V1586M413,1419V1586M507,1419V1586" stroke="#e2e2e2"/>
<line x1="197" y1="1419.5" x2="599" y2="1419.5" stroke="#888"/>
<line x1="200" y1="1586" x2="200" y2="1419" stroke="#333" stroke-width="6" stroke-dasharray="0.8 2.54"/>
<line x1="197" y1="1419" x2="197" y2="1587" stroke="#333" stroke-width="1.2"/>
<rect x="197" y="1583" width="225" height="3" fill="#d4d4f4"/>
<rect x="200" y="1582" width="30" height="4" fill="#4a4af0"/>
<rect x="422" y="1582" width="177" height="4" fill="#0000ee"/>
<path d="M197,1442 L200,1462 L204,1505 L208,1550 L212,1574 L218,1578 L228,1577 L232,1570 L235,1520 L238,1460 L240,1440 L242,1470 L244,1540 L246,1561" fill="none" stroke="#22dd22" stroke-width="3"/>
<path d="M197,1442 L200,1462 L204,1505 L208,1550 L212,1574 L218,1578 L228,1577 L232,1570 L235,1520 L238,1460 L240,1440 L242,1470 L244,1540 L246,1561" fill="none" stroke="#ee2a1a" stroke-width="1"/>
<path d="M246,1561 L246,1437 L258,1434 L258,1561 Z" fill="url(#rgG)"/>
<g fill="none" stroke="#ee2a1a" stroke-width="1.2">
<path d="M272,1437 C274,1440 275,1460 276,1490 L282,1580 Q284,1584 290,1585"/>
<path d="M283,1437 C285,1440 286,1460 287,1490 L293,1580 Q295,1584 301,1585"/>
<path d="M295,1437 C297,1440 298,1460 299,1490 L305,1580 Q307,1584 313,1585"/>
<path d="M300,1437 C302,1440 303,1460 304,1490 L310,1580 Q312,1584 318,1585"/>
<path d="M307,1437 C309,1440 310,1460 311,1490 L317,1580 Q319,1584 325,1585"/>
<path d="M312,1437 C314,1440 315,1460 316,1490 L322,1580 Q324,1584 330,1585"/>
<path d="M317,1437 C319,1440 320,1460 321,1490 L327,1580 Q329,1584 335,1585"/>
<path d="M322,1437 C324,1440 325,1460 326,1490 L332,1580 Q334,1584 340,1585"/>
<path d="M327,1437 C329,1440 330,1460 331,1490 L337,1580 Q339,1584 345,1585"/>
<path d="M331,1437 C333,1440 334,1460 335,1490 L341,1580 Q343,1584 349,1585"/>
<path d="M335,1437 C337,1440 338,1460 339,1490 L345,1580 Q347,1584 353,1585"/>
<path d="M339,1437 C341,1440 342,1460 343,1490 L349,1580 Q351,1584 357,1585"/>
<path d="M343,1437 C345,1440 346,1460 347,1490 L353,1580 Q355,1584 361,1585"/>
<path d="M347,1437 C349,1440 350,1460 351,1490 L357,1580 Q359,1584 365,1585"/>
<path d="M352,1437 C354,1440 355,1460 356,1490 L362,1580 Q364,1584 370,1585"/>
<path d="M356,1437 C358,1440 359,1460 360,1490 L366,1580 Q368,1584 374,1585"/>
<path d="M360,1437 C362,1440 363,1460 364,1490 L370,1580 Q372,1584 378,1585"/>
<path d="M364,1437 C366,1440 367,1460 368,1490 L374,1580"/>
<path d="M368,1437 C370,1440 371,1460 372,1490 L378,1580"/>
</g>
<path d="M372,1437 L423,1435 L428,1470 L432,1584 L378,1584 L374,1520 Z" fill="url(#rg2)"/>
<polygon points="374,1450 400,1450 400,1580 380,1580" fill="url(#st)" opacity="0.45"/>
<path d="M258,1436 Q290,1438 320,1436 T380,1437 T423,1436" fill="none" stroke="#22dd22" stroke-width="3.5"/>
<path d="M423,1436 L427,1460 L431,1582 L440,1584" fill="none" stroke="#22dd22" stroke-width="3.5"/>
<path d="M197,1419H193M197,1435.7H193M197,1452.4H193M197,1469.1H193M197,1485.8H193M197,1502.5H193M197,1519.2H193M197,1535.9H193M197,1552.6H193M197,1569.3H193M197,1586H193" stroke="#333"/>
<g font-size="8.5" font-weight="bold" fill="#111" text-anchor="end" letter-spacing="0.8">
<text x="190" y="1422">100</text><text x="190" y="1439">90</text><text x="190" y="1455.5">80</text><text x="190" y="1472">70</text><text x="190" y="1489">60</text><text x="190" y="1505.5">50</text><text x="190" y="1522">40</text><text x="190" y="1539">30</text><text x="190" y="1555.5">20</text><text x="190" y="1572.5">10</text><text x="190" y="1589">0</text>
</g>
<text transform="translate(163,1503) rotate(-90)" font-size="8" font-weight="bold" fill="#111" text-anchor="middle" textLength="67" lengthAdjust="spacingAndGlyphs">Transmission in %</text>

<!-- ===================== FIGURE 16 RIGHT ===================== -->
<rect x="625.5" y="1213.5" width="431" height="375.5" fill="#fff" stroke="#555"/>
<rect x="626" y="1247" width="430" height="38" fill="#f6f6f6"/>
<rect x="626" y="1323" width="430" height="38" fill="#f6f6f6"/>
<rect x="626" y="1399" width="430" height="38" fill="#f6f6f6"/>
<rect x="626" y="1475" width="430" height="38" fill="#f6f6f6"/>
<rect x="626" y="1551" width="430" height="38" fill="#f6f6f6"/>
<path d="M626,1247H1056M626,1285H1056M626,1323H1056M626,1361H1056M626,1399H1056M626,1437H1056M626,1475H1056M626,1513H1056M626,1551H1056M840,1230V1589M947,1230V1589" stroke="#e8e8e8"/>
<line x1="628" y1="1589" x2="628" y2="1232" stroke="#333" stroke-width="6" stroke-dasharray="0.9 6.7"/>
<line x1="625.5" y1="1213" x2="625.5" y2="1590" stroke="#222" stroke-width="1.3"/>
<line x1="625" y1="1589" x2="1057" y2="1589" stroke="#222" stroke-width="1.5"/>
<path d="M620,1247H625M620,1285H625M620,1323H625M620,1361H625M620,1399H625M620,1437H625M620,1475H625M620,1513H625M620,1551H625M620,1589H625" stroke="#222"/>
<path d="M647,1589V1583M668,1589V1583M797,1589V1583M817,1589V1583M861,1589V1583M882,1589V1583M1010,1589V1583M1032,1589V1583" stroke="#222"/>
<g font-size="12" font-weight="bold" fill="#111" text-anchor="end">
<text x="619" y="1251.5">9</text><text x="619" y="1289.5">8</text><text x="619" y="1327.5">7</text><text x="619" y="1365.5">6</text><text x="619" y="1403.5">5</text><text x="619" y="1441.5">4</text><text x="619" y="1479.5">3</text><text x="619" y="1517.5">2</text><text x="619" y="1555.5">1</text><text x="619" y="1593">0</text>
</g>
<text transform="translate(609,1408) rotate(-90)" font-size="13" font-weight="bold" fill="#111" text-anchor="middle" textLength="110" lengthAdjust="spacingAndGlyphs">Velocity in µm/s</text>
<rect x="678" y="1262" width="106" height="327" fill="#ff0000"/>
<rect x="893" y="1453" width="106" height="136" fill="#0000ff"/>
<path d="M731,1262 l3,-3 M946,1453 l3,-3" stroke="#333"/>
<g font-size="12.5" font-weight="bold" fill="#111" text-anchor="middle">
<text x="747" y="1255" textLength="25" lengthAdjust="spacingAndGlyphs">8.616</text>
<text x="961" y="1446" textLength="25" lengthAdjust="spacingAndGlyphs">3.574</text>
</g>
<rect x="628" y="1216" width="21" height="11" fill="#ff0000" stroke="#333" stroke-width="0.8"/>
<rect x="802" y="1216" width="21" height="11" fill="#0000ff" stroke="#333" stroke-width="0.8"/>
<g font-size="12" fill="#111">
<text x="655" y="1226" textLength="136" lengthAdjust="spacingAndGlyphs">Pigment dispersion - stirrer</text>
<text x="829" y="1226" textLength="147" lengthAdjust="spacingAndGlyphs">Pigment dispersion - ball mill</text>
</g>

<!-- ===================== TEXT ===================== -->
<g font-family="Liberation Serif, Noto Serif CJK SC, serif" fill="#111">
<text x="264" y="646" font-size="17.5" textLength="690" lengthAdjust="spacingAndGlyphs">图15-1含不同添加剂原料的氧化锆陶瓷墨水的界面沉降位置随时间的变化及界面沉降速度</text>
<text x="384" y="1028" font-size="17.5" textLength="447" lengthAdjust="spacingAndGlyphs">图15-2 含不同添加剂原料的氧化锆陶瓷墨水的沉降层厚度</text>
<text x="81" y="1074" font-size="21" textLength="1096" lengthAdjust="spacingAndGlyphs">LUM稳定性分析仪可以对分散体进行详细的界面追踪，可实现对悬浮液的沉降，乳液的上浮，悬浮乳液等复杂分散体的分离</text>
<text x="44" y="1115" font-size="21" textLength="172" lengthAdjust="spacingAndGlyphs">和失稳进行表征。</text>
<text x="44" y="1158" font-size="21" textLength="571" lengthAdjust="spacingAndGlyphs">B. 本例中，比较搅拌和球磨2种不同分散法对涂料稳定性的影响</text>
<text x="370" y="1624" font-size="17.5" textLength="476" lengthAdjust="spacingAndGlyphs">图16同一样品在不同分散条件下的图谱差异以及界面沉降速度</text>
<text x="45" y="1668" font-size="20" textLength="1127" lengthAdjust="spacingAndGlyphs">从透光率图谱的变化来看，两个样品均是区域沉降的过程。其中普通搅拌分散的色浆，其谱线的间距在实验初期就变得较宽，</text>
<text x="45" y="1711" font-size="20" textLength="1128" lengthAdjust="spacingAndGlyphs">说明沉降较快；后期谱线的间隙变密，出现了沉降压缩。从两个样品界面沉降的速度比较，球磨分散后的样品沉降速度更慢一</text>
<text x="45" y="1753" font-size="20">些。</text>
<text x="45" y="1795" font-size="20" textLength="141" lengthAdjust="spacingAndGlyphs">2.5 平均透光率</text>
<text x="45" y="1837" font-size="20" textLength="437" lengthAdjust="spacingAndGlyphs">本例中，比较2个透明水性涂料的平均透光率差异</text>
</g>
</svg>
</body></html>
